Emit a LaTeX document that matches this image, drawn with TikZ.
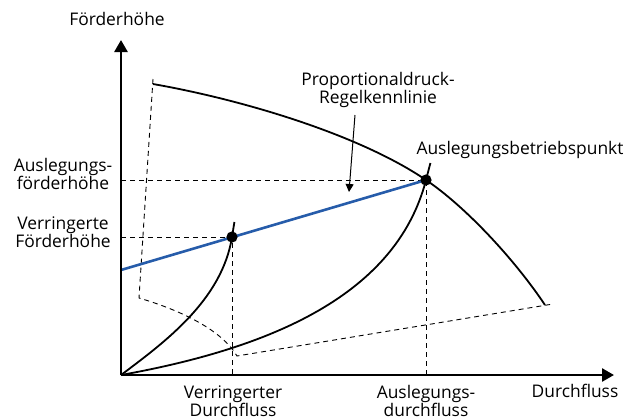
\documentclass[tikz,border=0pt]{standalone}
\usepackage{fontspec}
\setmainfont{Open Sans}
\usetikzlibrary{arrows.meta}
\definecolor{kennblau}{RGB}{38,92,170}

\begin{document}
\begin{tikzpicture}[x=0.5pt,y=-0.5pt,every node/.style={font=\fontsize{8.7}{8.9}\selectfont,align=center,inner sep=0pt},
  achse/.style={line width=1.3pt,-{Triangle[length=6pt,width=6.5pt]}},
  kurve/.style={line width=0.9pt},
  hilfs/.style={line width=0.45pt,dash pattern=on 2.5pt off 2pt},
  zeiger/.style={line width=0.5pt,-{Triangle[length=4pt,width=4pt]}}]
  \useasboundingbox (0,0) rectangle (638,419);
  \coordinate (o) at (121,375);
  \coordinate (ytop) at (121,40);
  \coordinate (xend) at (614,375);
  \coordinate (bp) at (426,180);
  \coordinate (rp) at (232,237);
  \coordinate (hy) at (121,180);
  \coordinate (ry) at (121,237);
  \coordinate (bx) at (426,375);
  \coordinate (rx) at (232,375);
  \coordinate (blau) at (121,270);
  \coordinate (k0) at (153,79);
  \coordinate (k1) at (139,298);
  \coordinate (k2) at (237,356);
  \coordinate (k3) at (553,304);
  \coordinate (pa) at (153,84);
  \coordinate (pe) at (545,305);
  \coordinate (pfeilA) at (355,115);
  \coordinate (pfeilB) at (349,192);
  % Hilfslinien
  \draw[hilfs] (hy) -- (bp) -- (bx);
  \draw[hilfs] (ry) -- (rp) -- (rx);
  \draw[hilfs] (k0) -- (k1) .. controls (180,310) and (222,330) .. (k2) -- (k3);
  % Kennlinien
  \draw[kurve] (pa) .. controls (244,100) and (360,135) .. (bp)
    .. controls (466,207) and (515,260) .. (pe);
  \draw[kurve] (o) .. controls (165,342) and (222,300) .. (rp) -- ++(2.4,-15);
  \draw[kurve] (o) .. controls (260,350) and (395,300) .. (bp) -- ++(4.4,-17);
  \draw[line width=1.3pt,kennblau] (blau) -- (bp);
  \draw[achse] (o) -- (ytop);
  \draw[achse] (o) -- (xend);
  \fill (bp) circle (2.8pt);
  \fill (rp) circle (2.8pt);
  % Beschriftung
  \node (yl) at (117,19) {Förderhöhe};
  \node (xl) at (575,391) {Durchfluss};
  \node (hl) at (63,174) {Auslegungs-\\förderhöhe};
  \node (rl) at (63,232) {Verringerte\\Förderhöhe};
  \node (ql) at (233,401) {Verringerter\\Durchfluss};
  \node (bl) at (426,401) {Auslegungs-\\durchfluss};
  \node (pl) at (520,150) {Auslegungsbetriebspunkt};
  \node (kl) at (378,90) {Proportionaldruck-\\Regelkennlinie};
  \draw[zeiger] (pfeilA) -- (pfeilB);
\end{tikzpicture}
\end{document}
